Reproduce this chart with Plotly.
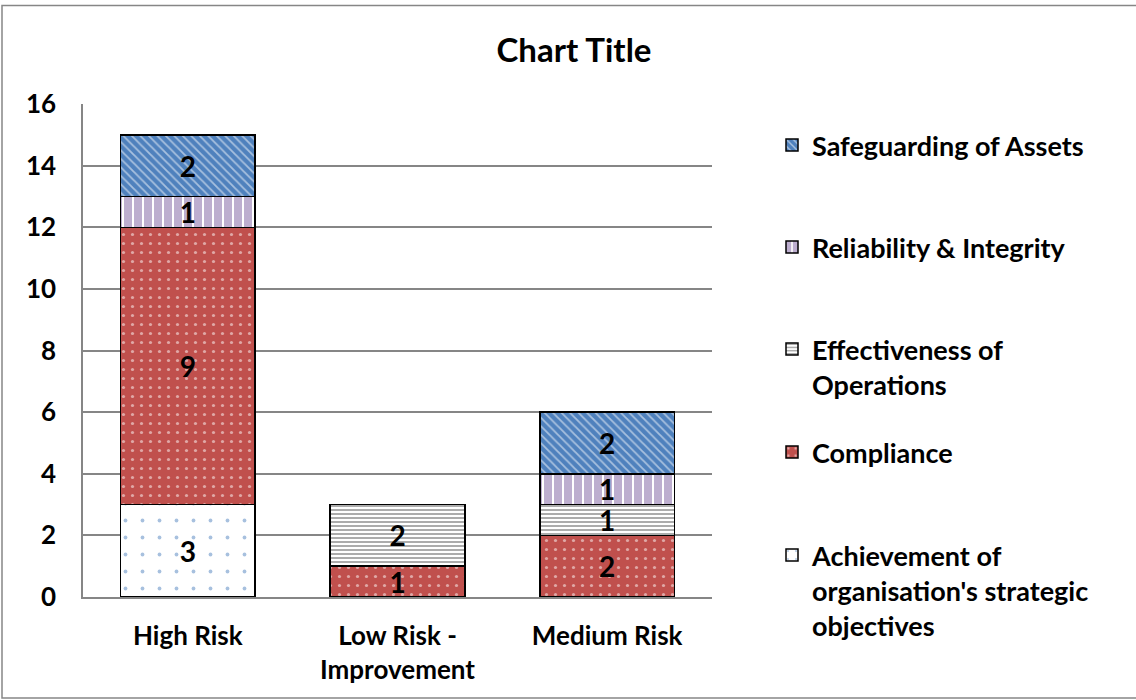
import plotly.graph_objects as go

# Risk categories (x axis) and the count of findings per control objective
categories = ["High Risk", "Low Risk -<br>Improvement", "Medium Risk"]
achievement = [3, 0, 0]
compliance = [9, 1, 2]
effectiveness = [0, 2, 1]
reliability = [1, 0, 1]
safeguarding = [2, 0, 2]

y_ticks = [0, 2, 4, 6, 8, 10, 12, 14, 16]

FONT = "Lato"
W, H = 1136, 700
# plot area in pixels
PX0, PX1, PY0, PY1 = 83, 712, 104, 597

series = [
    ("Achievement of<br>organisation's strategic<br>objectives", achievement,
     dict(shape=".", fgcolor="#4F81BD", bgcolor="white", size=17, solidity=0.04)),
    ("Compliance", compliance,
     dict(shape=".", fgcolor="white", bgcolor="#C0504D", size=9, solidity=0.1)),
    ("Effectiveness of<br>Operations", effectiveness,
     dict(shape="-", fgcolor="#595959", bgcolor="white", size=4, solidity=0.5)),
    ("Reliability & Integrity", reliability,
     dict(shape="|", fgcolor="#7B5EA0", bgcolor="white", size=10, solidity=0.8)),
    ("Safeguarding of Assets", safeguarding,
     dict(shape="\\", fgcolor="white", bgcolor="#4F81BD", size=6, solidity=0.3)),
]

# first-line centre (px) of each legend entry, in series order (bottom entry first)
legend_rows = [557, 454, 351, 249, 147]
legend_names = ["legend", "legend2", "legend3", "legend4", "legend5"]

fig = go.Figure()
for i, (name, vals, pat) in enumerate(series):
    fig.add_trace(go.Bar(
        name=name,
        x=categories,
        y=vals,
        text=[str(v) if v else "" for v in vals],
        textposition="inside",
        insidetextanchor="middle",
        textangle=0,
        constraintext="none",
        textfont=dict(family=FONT, size=28, color="black", weight="bold"),
        marker=dict(color=pat["bgcolor"], pattern=pat,
                    line=dict(color="black", width=1.5)),
        legend=legend_names[i],
        hoverinfo="skip",
    ))

legend_font = dict(family=FONT, size=27, color="black", weight="bold")
LEG_X = 772
legend_layouts = {}
for row_y, lname in zip(legend_rows, legend_names):
    legend_layouts[lname] = dict(
        x=LEG_X / W, xref="container", xanchor="left",
        y=1 - (row_y - 26) / H, yref="container", yanchor="top",
        font=legend_font, valign="top",
        bgcolor="rgba(0,0,0,0)", borderwidth=0,
    )

tick_font = dict(family=FONT, size=26, color="black", weight="bold")

fig.update_layout(
    width=W, height=H,
    margin=dict(l=PX0, r=W - PX1, t=PY0, b=H - PY1),
    paper_bgcolor="white", plot_bgcolor="white",
    barmode="stack", bargap=0.357,
    title=dict(text="Chart Title", x=574 / W, xanchor="center",
               y=1 - 50 / H, yanchor="middle",
               font=dict(family=FONT, size=33, color="black", weight="bold")),
    showlegend=True,
    **legend_layouts,
    xaxis=dict(
        tickmode="array", tickvals=categories, ticktext=categories,
        showline=True, linecolor="#868686", linewidth=1.5,
        showgrid=False, ticks="", ticklabelstandoff=15,
        tickfont=tick_font,
    ),
    yaxis=dict(
        range=[0, 16], tickmode="array", tickvals=y_ticks,
        showline=True, linecolor="#868686", linewidth=1.5,
        showgrid=True, gridcolor="#868686", gridwidth=1.5,
        ticks="", ticklabelstandoff=20, zeroline=False,
        tickfont=tick_font,
    ),
    shapes=[dict(
        type="rect", xref="paper", yref="paper",
        x0=(2 - PX0) / (PX1 - PX0), x1=(1140 - PX0) / (PX1 - PX0),
        y0=(PY1 - 698) / (PY1 - PY0), y1=(PY1 - 5.5) / (PY1 - PY0),
        line=dict(color="#868686", width=1.5), layer="below",
    )],
)

fig.write_html("out.html")
